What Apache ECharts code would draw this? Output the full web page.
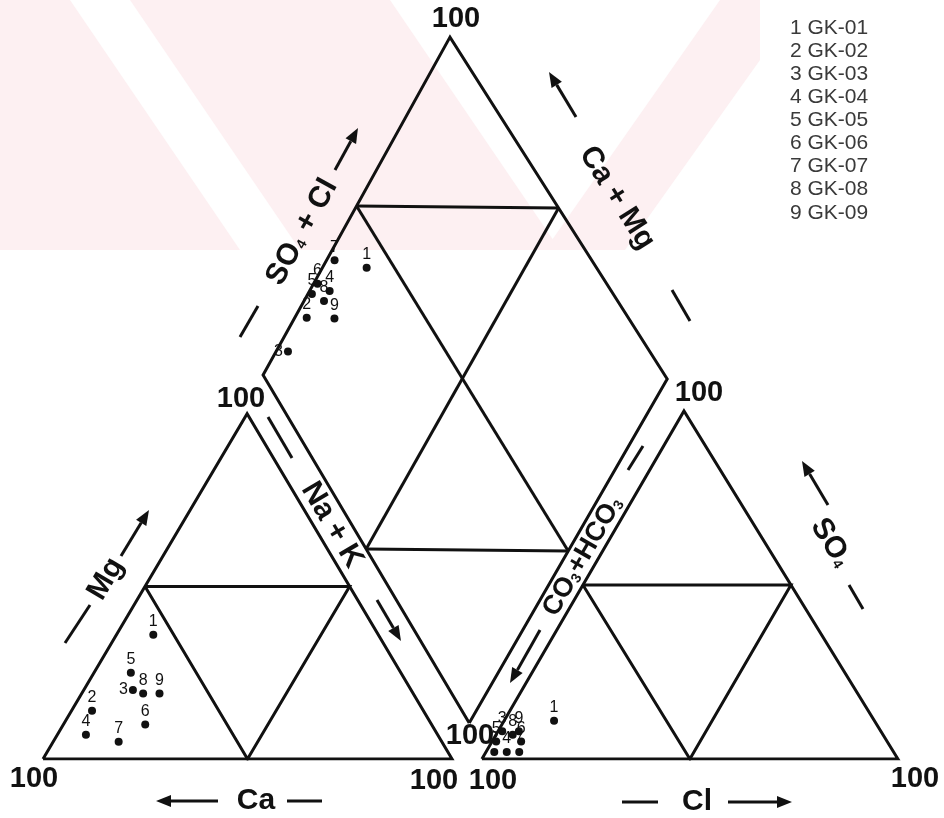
<!DOCTYPE html>
<html>
<head>
<meta charset="utf-8">
<title>Piper diagram</title>
<script src="https://cdn.jsdelivr.net/npm/echarts@6/dist/echarts.min.js"></script>
<style>
html, body { margin: 0; padding: 0; background: #fff; }
#myChart { width: 944px; height: 818px; }
</style>
</head>
<body>
<div id="myChart"></div>
<script>
// sample names
var sampleNo = ['1', '2', '3', '4', '5', '6', '7', '8', '9'];
var sampleName = ['GK-01', 'GK-02', 'GK-03', 'GK-04', 'GK-05', 'GK-06', 'GK-07', 'GK-08', 'GK-09'];

// cations, % meq (left triangle)
var ca  = [55, 81, 68, 86, 66, 70, 79, 66, 62];
var mg  = [36, 14, 20,  7, 25, 10,  5, 19, 19];
var naK = [ 9,  5, 12,  7,  9, 20, 16, 15, 19];

// anions, % meq (right triangle)
var cl   = [12,  2,  1,  5,  1,  7,  8,  4,  5];
var so4  = [11,  2,  8,  2,  5,  5,  2,  7,  8];
var hco3 = [77, 96, 91, 93, 94, 88, 90, 89, 87];

// diamond, as plotted
var caMgD  = [89, 97, 97, 95, 99, 99, 98, 95, 90];
var so4ClD = [43, 20, 10, 30, 25, 28, 36, 27, 27];

// frame corners in diagram units (left triangle side = 100)
var triL = { p0: [0, 0], p1: [100, 0], p2: [49.9, 84.4] };          // Ca, Na+K, Mg
var triR = { p0: [107.3, 0], p1: [209.0, 0], p2: [156.7, 85.1] };   // HCO3, Cl, SO4
var dia  = { b: [104.2, 8.8], l: [53.8, 93.9], r: [152.6, 92.9], t: [99.5, 176.5] };

function tern(tri, a, b) {
    return [
        tri.p0[0] + a * (tri.p1[0] - tri.p0[0]) + b * (tri.p2[0] - tri.p0[0]),
        tri.p0[1] + a * (tri.p1[1] - tri.p0[1]) + b * (tri.p2[1] - tri.p0[1])
    ];
}
function quad(a, c) {
    var B = dia.b, L = dia.l, R = dia.r, T = dia.t;
    return [
        B[0] + a * (L[0] - B[0]) + c * (R[0] - B[0]) + a * c * (T[0] - L[0] - R[0] + B[0]),
        B[1] + a * (L[1] - B[1]) + c * (R[1] - B[1]) + a * c * (T[1] - L[1] - R[1] + B[1])
    ];
}

var frame = [
    [tern(triL, 0, 0), tern(triL, 1, 0), tern(triL, 0, 1), tern(triL, 0, 0)],
    [tern(triL, 0, 0.5), tern(triL, 0.5, 0.5), tern(triL, 0.5, 0), tern(triL, 0, 0.5)],
    [tern(triR, 0, 0), tern(triR, 1, 0), tern(triR, 0, 1), tern(triR, 0, 0)],
    [tern(triR, 0, 0.5), tern(triR, 0.5, 0.5), tern(triR, 0.5, 0), tern(triR, 0, 0.5)],
    [quad(0, 0), quad(1, 0), quad(1, 1), quad(0, 1), quad(0, 0)],
    [quad(1, 0.5), quad(0.5, 1)],
    [quad(0.5, 0), quad(0, 0.5)],
    [quad(0.5, 0), quad(0.5, 1)],
    [quad(0, 0.5), quad(1, 0.5)]
];

// sample 3 is labelled on its left in the left triangle and the diamond
function pt(v, k, leftLabel) {
    var d = { value: v, name: sampleNo[k] };
    if (leftLabel) d.label = { position: 'left', distance: 1 };
    return d;
}
var ptsL = [], ptsR = [], ptsD = [];
for (var i = 0; i < sampleNo.length; i++) {
    ptsL.push(pt(tern(triL, naK[i] / 100, mg[i] / 100), i, i === 2));
    ptsR.push(pt(tern(triR, cl[i] / 100, so4[i] / 100), i, false));
    ptsD.push(pt(quad(caMgD[i] / 100, so4ClD[i] / 100), i, i === 2));
}

var FAM = '"Liberation Sans", Arial, sans-serif';
var INK = '#111';

function txt(x, y, s, size, rotDeg) {
    return {
        type: 'text', x: x, y: y, rotation: (rotDeg || 0) * Math.PI / 180, z: 10,
        style: {
            text: s, fontSize: size || 29, fontWeight: 'bold', fontFamily: FAM, fill: INK,
            align: 'center', verticalAlign: 'middle',
            rich: {
                s: { fontSize: 14, fontWeight: 'bold', fontFamily: FAM, fill: INK, padding: [12, 1, 0, 0] }
            }
        }
    };
}
function dash(x1, y1, x2, y2) {
    return { type: 'line', z: 10, shape: { x1: x1, y1: y1, x2: x2, y2: y2 }, style: { stroke: INK, lineWidth: 3 } };
}
function arrow(x1, y1, x2, y2) {
    var a = Math.atan2(y2 - y1, x2 - x1), hl = 15, hw = 6;
    var bx = x2 - hl * Math.cos(a), by = y2 - hl * Math.sin(a);
    return [
        dash(x1, y1, bx, by),
        { type: 'polygon', z: 10, shape: { points: [[x2, y2],
            [bx + hw * Math.sin(a), by - hw * Math.cos(a)],
            [bx - hw * Math.sin(a), by + hw * Math.cos(a)]] }, style: { fill: INK } }
    ];
}

var graphics = [];
// faint watermark
var pink = '#fdf0f2';
[
    [[0, 0], [70, 0], [240, 250], [0, 250]],
    [[130, 0], [390, 0], [560, 250], [300, 250]],
    [[450, 0], [720, 0], [545, 250], [560, 250], [625, 250], [760, 60], [760, 0]]
].forEach(function (p) {
    graphics.push({ type: 'polygon', z: -10, shape: { points: p }, style: { fill: pink } });
});

// 100 labels
[[456, 19], [241, 399], [699, 393], [470, 736], [34, 779], [434, 781], [493, 781], [915, 779]].forEach(function (p) {
    graphics.push(txt(p[0], p[1], '100', 29));
});

// axis titles
graphics = graphics.concat(arrow(218, 801, 156, 801));
graphics.push(txt(256, 801, 'Ca', 30));
graphics.push(dash(287, 801, 322, 801));

graphics.push(dash(622, 802, 658, 802));
graphics.push(txt(697, 802, 'Cl', 30));
graphics = graphics.concat(arrow(728, 802, 792, 802));

graphics.push(dash(65, 643, 90, 605));
graphics.push(txt(106, 579, 'Mg', 30, 59.4));
graphics = graphics.concat(arrow(121, 556, 149, 510));

graphics.push(dash(240, 337, 258, 306));
graphics.push(txt(302, 232, 'SO{s|4} + Cl', 30, 61));
graphics = graphics.concat(arrow(335, 170, 358, 128));

graphics = graphics.concat(arrow(576, 117, 549, 72));
graphics.push(txt(617, 198, 'Ca + Mg', 30, -57.6));
graphics.push(dash(672, 290, 690, 321));

graphics.push(dash(268, 417, 292, 458));
graphics.push(txt(332, 525, 'Na + K', 30, -59.4));
graphics = graphics.concat(arrow(377, 600, 401, 641));

graphics.push(dash(628, 470, 643, 446));
graphics.push(txt(583, 556, 'CO{s|3}+HCO{s|3}', 27, 60));
graphics = graphics.concat(arrow(540, 630, 510, 683));

graphics = graphics.concat(arrow(828, 505, 802, 461));
graphics.push(txt(831, 543, 'SO{s|4}', 30, -58.4));
graphics.push(dash(849, 585, 863, 609));

// legend
for (var k = 0; k < sampleNo.length; k++) {
    graphics.push({
        type: 'text', x: 790, y: 28 + k * 23.1, z: 10,
        style: { text: sampleNo[k] + ' ' + sampleName[k], fontSize: 21, fontFamily: FAM,
                 fill: '#3a3a3a', align: 'left', verticalAlign: 'middle' }
    });
}

function pointSeries(data) {
    return {
        type: 'scatter', data: data, symbol: 'circle', symbolSize: 8, z: 5,
        itemStyle: { color: INK, opacity: 1 },
        label: { show: true, position: 'top', distance: 1, formatter: '{b}',
                 color: INK, fontSize: 16, fontFamily: 'Liberation Sans' },
        emphasis: { disabled: true }
    };
}

var myChart = echarts.init(document.getElementById('myChart'));
myChart.setOption({
    animation: false,
    backgroundColor: '#fff',
    grid: { left: 43, top: 31, width: 859, height: 728 },
    xAxis: { type: 'value', min: 0, max: 210, show: false },
    yAxis: { type: 'value', min: 0, max: 178, show: false },
    graphic: graphics,
    series: [
        {
            type: 'lines', coordinateSystem: 'cartesian2d', polyline: true, z: 2,
            lineStyle: { color: INK, width: 3, opacity: 1 },
            data: frame.map(function (c) { return { coords: c }; }),
            silent: true
        },
        pointSeries(ptsL),
        pointSeries(ptsR),
        pointSeries(ptsD)
    ]
});
</script>
</body>
</html>
